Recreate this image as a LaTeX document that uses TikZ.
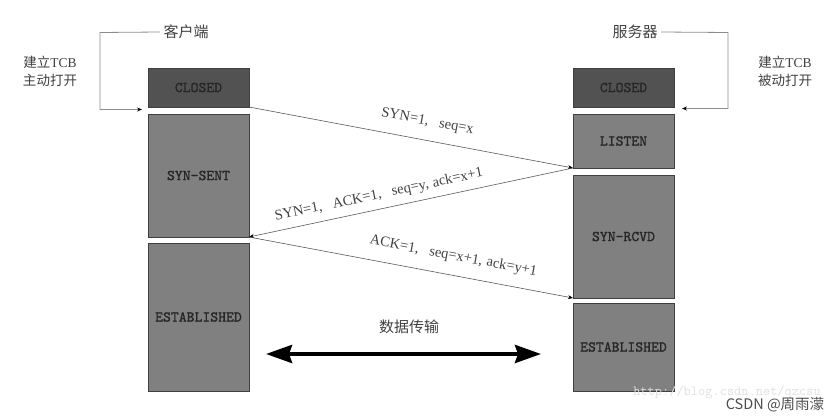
\documentclass[tikz,border=0pt]{standalone}
\usepackage{fontspec}
\setmainfont{Liberation Serif}
\newfontfamily\cjk{Noto Sans CJK SC}
\newfontfamily\statefont[Extension=.otf,FakeBold=1.3]{lmmono10-regular}
\usetikzlibrary{positioning,arrows.meta}
\tikzset{
  state/.style={
    % The shape:
    rectangle,
    minimum width=101pt,
    inner sep=0pt, outer sep=0pt,
    % The border:
    draw=black!75,
    % The filling:
    fill=black!50,
    % Font
    font=\statefont\fontsize{15}{16}\selectfont,
    text=black!85
  },
  closedstate/.style={
    state,
    fill=black!68},
  msglabel/.style={sloped,inner sep=1pt,text=black!75,
    font=\fontsize{14.5}{16}\selectfont}
}

\begin{document}
\begin{tikzpicture}[x=1pt,y=1pt,
                    msg/.style={draw=black!65,line width=0.6pt,-{Stealth[length=5pt,width=4pt,color=black]}},
                    bracket/.style={draw=black!45,line width=0.8pt,-{Stealth[length=5pt,width=4pt,color=black]}},
                    side/.style={align=center,text=black!75,font=\cjk\fontsize{13.5}{18}\selectfont},
                    party/.style={text=black!75,font=\cjk\fontsize{15}{18}\selectfont}]
  \useasboundingbox (0,0) rectangle (840,-420);

  % client column
  \node (cclosed) [closedstate,minimum height=39pt,anchor=north west] at (148,-68) {CLOSED};
  \node (synsent) [state,minimum height=123pt,below=7pt of cclosed]   {SYN-SENT};
  \node (cest)    [state,minimum height=148pt,below=6pt of synsent]   {ESTABLISHED};

  % server column
  \node (sclosed) [closedstate,minimum height=39pt,anchor=north west] at (573,-68) {CLOSED};
  \node (listen)  [state,minimum height=54pt,below=7pt of sclosed]    {LISTEN};
  \node (synrcvd) [state,minimum height=123pt,below=7pt of listen]    {SYN-RCVD};
  \node (sest)    [state,minimum height=88pt,below=5pt of synrcvd]    {ESTABLISHED};

  % parties and open modes
  \node (client)  [party] at (186,-32) {客户端};
  \node (server)  [party] at (635,-32) {服务器};
  \node (active)  [side]  at (50,-71)  {{\cjk 建立}{\rmfamily TCB}\\主动打开};
  \node (passive) [side]  at (785,-71) {{\cjk 建立}{\rmfamily TCB}\\被动打开};

  \coordinate (cbend) at (100,-32.5);
  \coordinate (ctip)  at (142,-109.5);
  \coordinate (sbend) at (728,-32.5);
  \coordinate (stip)  at (682,-108.5);
  \draw[bracket] (client.west) -- (cbend) |- (ctip);
  \draw[bracket] (server.east) -- (sbend) |- (stip);

  % handshake
  \draw[msg] (cclosed.south east) -- node[msglabel,above=11pt,pos=0.54]
    {SYN=1,\hspace{0.75em}seq=x} (listen.south west);
  \draw[msg] (listen.south west) -- node[msglabel,above=6pt,pos=0.59]
    {SYN=1,\hspace{0.75em}ACK=1,\hspace{0.75em}seq=y,\hspace{0.3em}ack=x+1} (synsent.south east);
  \draw[msg] (synsent.south east) -- node[msglabel,above=11pt,pos=0.62]
    {ACK=1,\hspace{0.75em}seq=x+1,\hspace{0.3em}ack=y+1} (synrcvd.south west);

  % data transfer
  \node (xfer) [party] at (409,-327) {数据传输};
  \coordinate (dataL) at (266,-354);
  \coordinate (dataR) at (541,-354);
  \draw[line width=4pt,{Stealth[length=26pt,width=18pt,inset=3pt]}-{Stealth[length=26pt,width=18pt,inset=3pt]}]
    (dataL) -- (dataR);

  % watermarks
  \node (wmark) [inner sep=0pt,text=black!12,font=\ttfamily\fontsize{14}{14}\selectfont] at (727,-392) {http://blog.csdn.net/qzcsu};
  \node (csdn)  [inner sep=0pt,text=black!70,font=\cjk\fontsize{14.5}{15}\selectfont] at (775,-405) {CSDN @周雨濛};
\end{tikzpicture}
\end{document}
